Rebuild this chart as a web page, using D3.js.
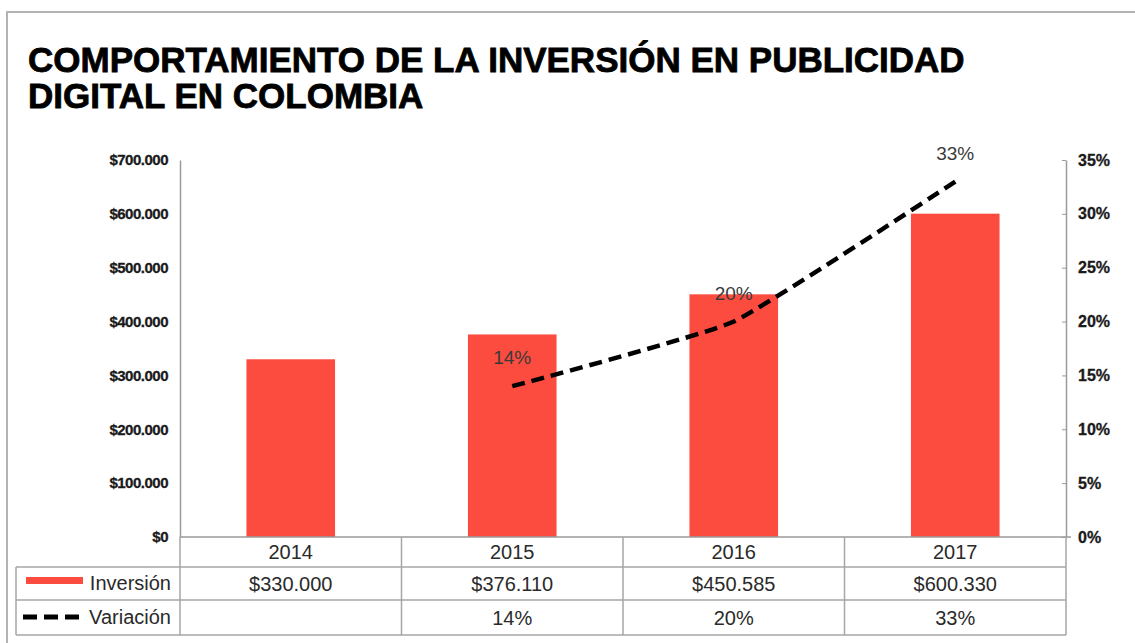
<!DOCTYPE html>
<html>
<head>
<meta charset="utf-8">
<script src="https://cdn.jsdelivr.net/npm/d3@7"></script>
<style>
  body { margin: 0; background: #fff; }
  svg { font-family: "Liberation Sans", Arial, Helvetica, sans-serif; }
</style>
</head>
<body>
<div id="chart"></div>
<script>
// chart data
const years = ["2014", "2015", "2016", "2017"];
const inversion = [330000, 376110, 450585, 600330];
const inversionLabels = ["$330.000", "$376.110", "$450.585", "$600.330"];
const variacion = [null, 0.14, 0.20, 0.33];
const variacionLabels = ["", "14%", "20%", "33%"];
const titleLines = ["COMPORTAMIENTO DE LA INVERSIÓN EN PUBLICIDAD", "DIGITAL EN COLOMBIA"];

const width = 1135, height = 643;
const margin = {top: 160, right: 69, bottom: 106, left: 180};
const baseY = height - margin.bottom;   // 537

const svg = d3.select("#chart")
  .append("svg")
  .attr("width", width)
  .attr("height", height);

// outer frame (only top + left visible)
svg.append("path")
  .attr("d", `M7,${height} V12 H${width}`)
  .attr("fill", "none")
  .attr("stroke", "#b3b3b3")
  .attr("stroke-width", 2);

// title
svg.append("g").selectAll("text")
  .data(titleLines)
  .enter()
  .append("text")
    .attr("x", 28)
    .attr("y", (d, i) => 72 + i * 36)
    .attr("font-size", "35px")
    .attr("font-weight", "bold")
    .attr("fill", "#000")
    .attr("stroke", "#000")
    .attr("stroke-width", 0.8)
    .text(d => d);

// scales
const xCol = d3.scaleBand()
  .domain(years)
  .range([margin.left, width - margin.right]);

const xBar = d3.scaleBand()
  .domain(years)
  .range([margin.left, width - margin.right])
  .paddingInner(0.6)
  .paddingOuter(0.3);

const yLeft = d3.scaleLinear()
  .domain([0, 700000])
  .range([baseY, margin.top]);

const yRight = d3.scaleLinear()
  .domain([0, 0.35])
  .range([baseY, margin.top]);

const locale = d3.formatLocale({decimal: ",", thousands: ".", grouping: [3], currency: ["$", ""]});
const money = locale.format("$,");

// left axis
const gl = svg.append("g")
  .attr("transform", `translate(${margin.left},0)`)
  .call(d3.axisLeft(yLeft).tickValues(d3.range(0, 700001, 100000)).tickSize(0).tickPadding(12).tickFormat(money));
gl.select(".domain").attr("stroke", "#9a9a9a").attr("stroke-width", 1.5);
gl.selectAll("text")
  .attr("font-size", "15px")
  .attr("font-weight", "bold")
  .attr("letter-spacing", "-0.5px")
  .attr("fill", "#1a1a1a")
  .attr("stroke", "#1a1a1a")
  .attr("stroke-width", 0.3)
  .attr("font-family", "Liberation Sans, Arial, sans-serif");

// right axis
const gr = svg.append("g")
  .attr("transform", `translate(${width - margin.right},0)`)
  .call(d3.axisRight(yRight).tickValues(d3.range(0, 0.3501, 0.05)).tickSizeInner(-4).tickSizeOuter(0).tickPadding(12).tickFormat(d3.format(".0%")));
gr.select(".domain").attr("stroke", "#9a9a9a").attr("stroke-width", 1.5);
gr.selectAll(".tick line").attr("stroke", "#9a9a9a");
gr.selectAll("text")
  .attr("font-size", "16px")
  .attr("font-weight", "bold")
  .attr("fill", "#1a1a1a")
  .attr("stroke", "#1a1a1a")
  .attr("stroke-width", 0.3)
  .attr("font-family", "Liberation Sans, Arial, sans-serif");

// bars
svg.selectAll(".bar")
  .data(inversion)
  .enter()
  .append("rect")
    .attr("class", "bar")
    .attr("x", (d, i) => xBar(years[i]))
    .attr("y", d => yLeft(d))
    .attr("width", xBar.bandwidth())
    .attr("height", d => baseY - yLeft(d))
    .attr("fill", "#fc4c40");

// data table
const rowTop = [baseY, 567, 600, 635];
const tableLeft = 16;
const tableRight = width - margin.right;
const gridColor = "#a6a6a6";
const tbl = svg.append("g");

// horizontal lines
tbl.append("line")
  .attr("x1", margin.left).attr("x2", tableRight + 5)
  .attr("y1", baseY).attr("y2", baseY)
  .attr("stroke", "#9a9a9a").attr("stroke-width", 1.5);
[rowTop[1], rowTop[2], rowTop[3]].forEach(y => {
  tbl.append("line")
    .attr("x1", tableLeft).attr("x2", tableRight)
    .attr("y1", y).attr("y2", y)
    .attr("stroke", gridColor).attr("stroke-width", 1.5);
});
// vertical lines
tbl.append("line")
  .attr("x1", tableLeft).attr("x2", tableLeft)
  .attr("y1", rowTop[1]).attr("y2", rowTop[3])
  .attr("stroke", gridColor).attr("stroke-width", 1.5);
years.concat(["end"]).forEach((yr, i) => {
  const x = i < years.length ? xCol(yr) : tableRight;
  tbl.append("line")
    .attr("x1", x).attr("x2", x)
    .attr("y1", baseY).attr("y2", rowTop[3])
    .attr("stroke", gridColor).attr("stroke-width", 1.5);
});

const cellText = (txt, col, row) => tbl.append("text")
  .attr("x", xCol(years[col]) + xCol.bandwidth() / 2)
  .attr("y", (rowTop[row] + rowTop[row + 1]) / 2 + 7)
  .attr("text-anchor", "middle")
  .attr("font-size", "20px")
  .attr("fill", "#2a2a2a")
  .text(txt);

years.forEach((yr, i) => {
  cellText(yr, i, 0);
  cellText(inversionLabels[i], i, 1);
  cellText(variacionLabels[i], i, 2);
});

// row headers with legend keys
tbl.append("rect")
  .attr("x", 26).attr("y", 577)
  .attr("width", 57).attr("height", 7)
  .attr("fill", "#fc4c40");
tbl.append("text")
  .attr("x", 171).attr("y", 590)
  .attr("text-anchor", "end")
  .attr("font-size", "20px")
  .attr("fill", "#2a2a2a")
  .text("Inversión");
tbl.append("line")
  .attr("x1", 23).attr("x2", 79)
  .attr("y1", 617).attr("y2", 617)
  .attr("stroke", "#000")
  .attr("stroke-width", 5)
  .attr("stroke-dasharray", "14,7");
tbl.append("text")
  .attr("x", 171).attr("y", 624)
  .attr("text-anchor", "end")
  .attr("font-size", "20px")
  .attr("fill", "#2a2a2a")
  .text("Variación");

// variation line
const pts = years.map((yr, i) => ({yr: yr, v: variacion[i], label: variacionLabels[i]}))
  .filter(d => d.v !== null);

const line = d3.line()
  .x(d => xCol(d.yr) + xCol.bandwidth() / 2)
  .y(d => yRight(d.v))
  .curve(d3.curveCardinal.tension(0.6));

svg.append("path")
  .datum(pts)
  .attr("d", line)
  .attr("fill", "none")
  .attr("stroke", "#000")
  .attr("stroke-width", 4.5)
  .attr("stroke-dasharray", "13,7");

svg.selectAll(".vlabel")
  .data(pts)
  .enter()
  .append("text")
    .attr("class", "vlabel")
    .attr("x", d => xCol(d.yr) + xCol.bandwidth() / 2)
    .attr("y", d => yRight(d.v) - 22)
    .attr("text-anchor", "middle")
    .attr("font-size", "19px")
    .attr("fill", "#3a3a3a")
    .text(d => d.label);
</script>
</body>
</html>
